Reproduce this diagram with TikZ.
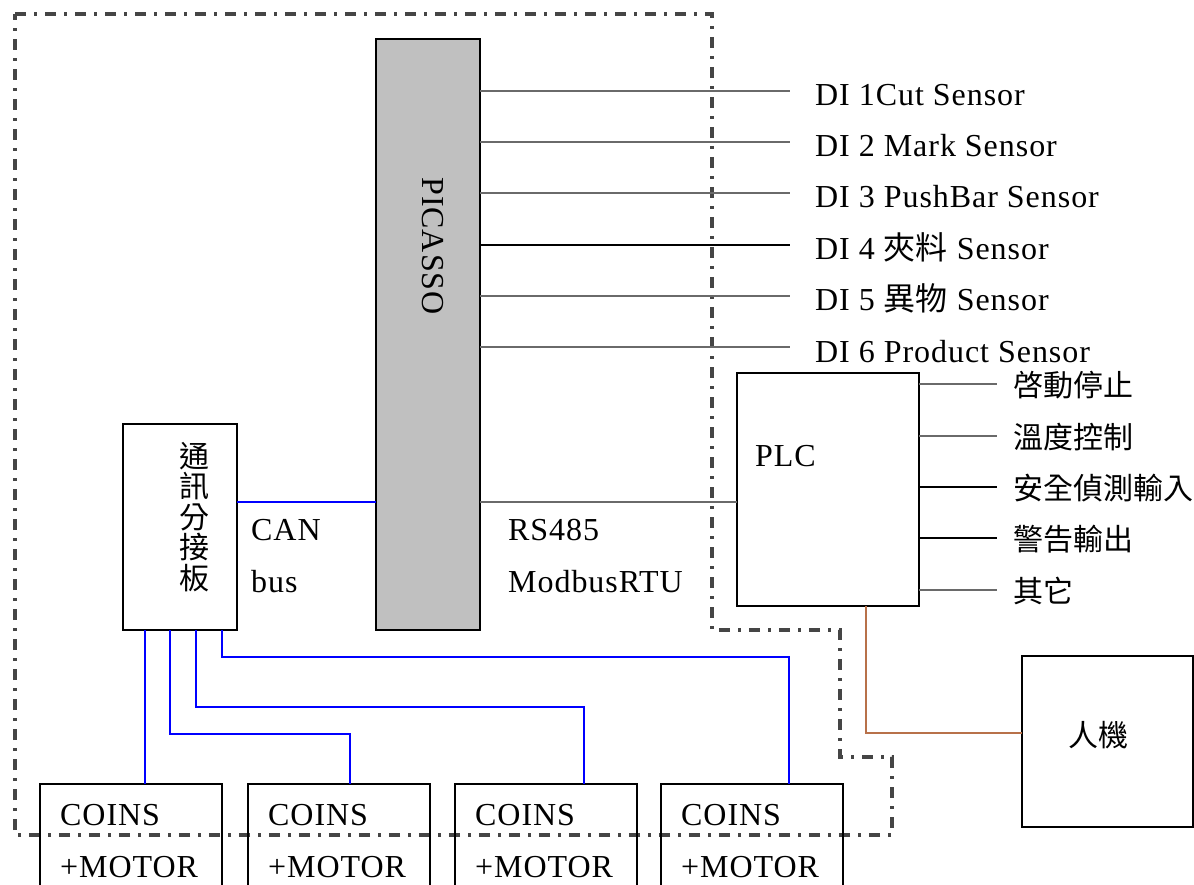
\documentclass[tikz,border=0pt]{standalone}
\usepackage{fontspec}
\setmainfont[LetterSpace=3]{Liberation Serif}
\newfontfamily\cjk{Noto Sans CJK TC}
\usepackage{tikz}
\usetikzlibrary{positioning}
\definecolor{WireGray}{HTML}{6A6A6A}
\definecolor{BusBlue}{HTML}{0000FF}
\definecolor{HmiBrown}{HTML}{B8714A}
\definecolor{FrameGray}{HTML}{454545}
\definecolor{BoxGray}{HTML}{C0C0C0}
\tikzset{unit box/.style={draw, line width=2pt, inner sep=0pt, outer sep=0pt},
  wire/.style={line width=2.5pt, WireGray},
  bus/.style={line width=2pt, BusBlue},
  label text/.style={anchor=base west, inner sep=0pt},
  cjk text/.style={inner sep=0pt, font=\cjk\fontsize{30}{30.5}\selectfont},
  frame/.style={FrameGray, line width=3.2pt, dash pattern=on 11pt off 8pt on 3pt off 8pt}}

\begin{document}
\begin{tikzpicture}[x=1pt, y=-1pt, font=\fontsize{32}{36}\selectfont]
\useasboundingbox (0,0) rectangle (1194,885);
\clip (0,0) rectangle (1194,885);

% dash-dot frame
\draw[frame] (15,14) -- (712,14) -- (712,630) -- (840,630) -- (840,757) -- (892,757) -- (892,835) -- (15,835) -- cycle;

% boxes
\node[unit box, fill=BoxGray, minimum width=104, minimum height=590] (picasso) at (428,334.5) {};
\node[rotate=-90, inner sep=0pt] (picassoname) at (433,246) {PICASSO};

\node[unit box, minimum width=182, minimum height=233] (plc) at (828,489.5) {};
\node[label text] (plcname) at (755,466) {PLC};

\node[unit box, minimum width=114, minimum height=206] (hub) at (180,527) {};
\node[cjk text, align=center] (hubname) at (194,517) {通\\訊\\分\\接\\板};

\node[unit box, minimum width=171, minimum height=171] (hmi) at (1107.5,741.5) {};
\node[cjk text] (hminame) at (1098,735) {人機};

\foreach \x/\n in {40/1, 248/2, 455/3, 661/4} {
  \node[unit box, anchor=north west, minimum width=182, minimum height=120] (coins\n) at (\x,784) {};
  \node[label text] (coinsname\n) at (\x+20,825) {COINS};
  \node[label text] (motorname\n) at (\x+20,877) {+MOTOR};
}

% sensor inputs
\foreach \i/\y/\c/\t in {1/91/WireGray/{DI 1Cut Sensor}, 2/142/WireGray/{DI 2 Mark Sensor},
    3/193/WireGray/{DI 3 PushBar Sensor}, 4/245/black/{DI 4 {\cjk 夾料} Sensor},
    5/296/WireGray/{DI 5 {\cjk 異物} Sensor}, 6/347/WireGray/{DI 6 Product Sensor}} {
  \coordinate (di\i) at (790,\y);
  \draw[wire, \c] (picasso.east |- di\i) -- (di\i);
  \node[label text] (dilabel\i) at (815,\y+15) {\t};
}

% PLC signals
\foreach \i/\y/\c/\t in {1/384/WireGray/啓動停止, 2/436/WireGray/溫度控制,
    3/487/black/安全偵測輸入, 4/538/black/警告輸出, 5/590/WireGray/其它} {
  \coordinate (out\i) at (997,\y);
  \draw[wire, \c] (plc.east |- out\i) -- (out\i);
  \node[cjk text, anchor=west] (outlabel\i) at (1013,\y+1) {\t};
}

% buses
\coordinate (busrow) at (0,502);
\draw[bus] (hub.east |- busrow) -- (picasso.west |- busrow);
\draw[wire] (picasso.east |- busrow) -- (plc.west |- busrow);
\node[label text] (canname) at (251,540) {CAN};
\node[label text] (busname) at (251,592) {bus};
\node[label text] (rsname) at (508,540) {RS485};
\node[label text] (modbusname) at (508,592) {ModbusRTU};

\draw[bus] ([xshift=-35pt]hub.south) -- ([xshift=-35pt]hub.south |- coins1.north);
\draw[bus] ([xshift=-10pt]hub.south) -- ++(0,104) -| ([xshift=11pt]coins2.north);
\draw[bus] ([xshift=16pt]hub.south) -- ++(0,77) -| ([xshift=38pt]coins3.north);
\draw[bus] ([xshift=42pt]hub.south) -- ++(0,27) -| ([xshift=37pt]coins4.north);

% HMI link
\coordinate (hmirow) at (0,733);
\draw[line width=2.5pt, HmiBrown] ([xshift=38pt]plc.south) |- (hmi.west |- hmirow);
\end{tikzpicture}
\end{document}
